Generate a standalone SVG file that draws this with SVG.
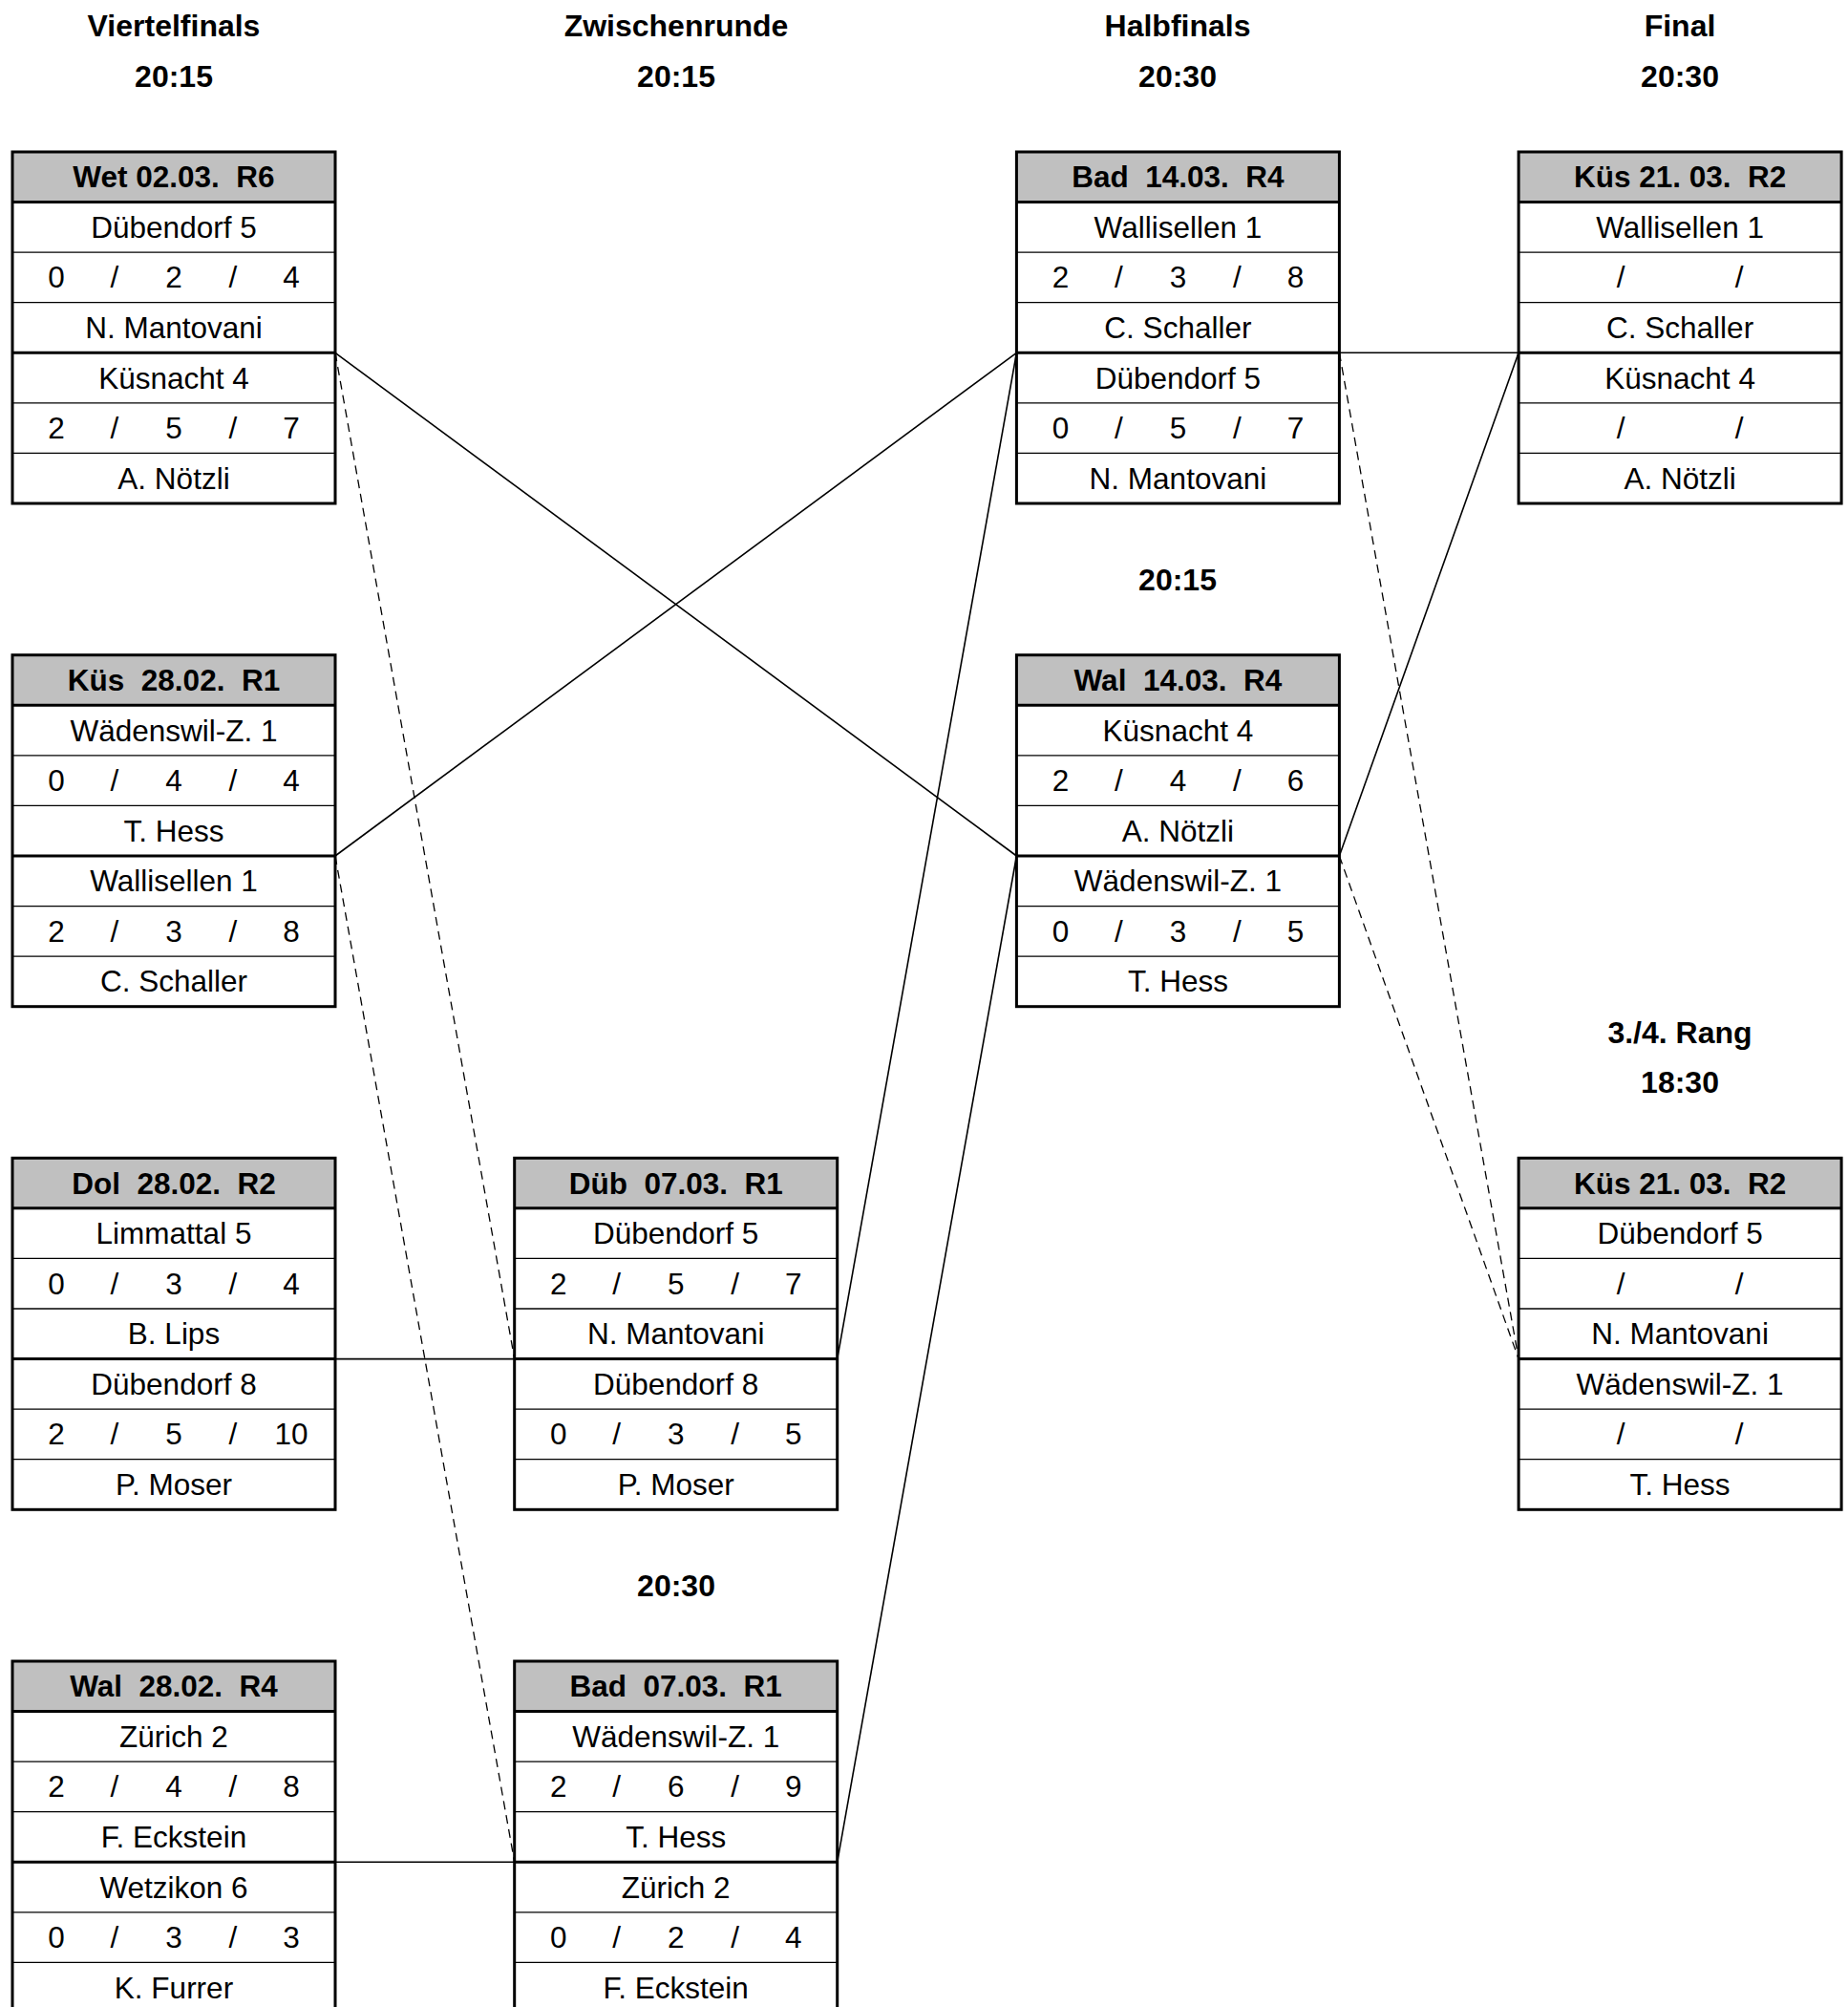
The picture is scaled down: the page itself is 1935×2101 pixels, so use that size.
<svg xmlns="http://www.w3.org/2000/svg" width="1935" height="2101" viewBox="0 0 1935 2101">
<style>
  .bg{fill:#ffffff}
  .hd{fill:#c0c0c0;stroke:none}
  .frame{fill:none;stroke:#000;stroke-width:3}
  .thin{stroke:#000;stroke-width:1.3}
  .thick{stroke:#000;stroke-width:3}
  .t{font-family:"Liberation Sans",Arial,sans-serif;font-size:31.5px;text-anchor:middle;fill:#000;white-space:pre}
  .b{font-weight:bold}
  .ttl{font-family:"Liberation Sans",Arial,sans-serif;font-size:32px;font-weight:bold;text-anchor:middle;fill:#000}
  .c{stroke:#000;stroke-width:1.6;fill:none}
  .d{stroke:#000;stroke-width:1.3;fill:none;stroke-dasharray:9 6}
</style>
<defs>
  <g id="box">
    <rect class="bg" x="0" y="0" width="338" height="368"/>
    <rect class="hd" x="0" y="0" width="338" height="52.57"/>
    <line class="thin" x1="0" y1="105.14" x2="338" y2="105.14"/>
    <line class="thin" x1="0" y1="157.71" x2="338" y2="157.71"/>
    <line class="thin" x1="0" y1="262.85" x2="338" y2="262.85"/>
    <line class="thin" x1="0" y1="315.42" x2="338" y2="315.42"/>
    <line class="thick" x1="0" y1="52.57" x2="338" y2="52.57"/>
    <line class="thick" x1="0" y1="210.28" x2="338" y2="210.28"/>
    <rect class="frame" x="0" y="0" width="338" height="368"/>
  </g>
</defs>
<rect x="0" y="0" width="1935" height="2101" fill="#fff"/>

<g id="titles">
  <text class="ttl" x="182" y="38">Viertelfinals</text>
  <text class="ttl" x="182" y="91">20:15</text>
  <text class="ttl" x="708" y="38">Zwischenrunde</text>
  <text class="ttl" x="708" y="91">20:15</text>
  <text class="ttl" x="1233" y="38">Halbfinals</text>
  <text class="ttl" x="1233" y="91">20:30</text>
  <text class="ttl" x="1759" y="38">Final</text>
  <text class="ttl" x="1759" y="91">20:30</text>
  <text class="ttl" x="1233" y="618">20:15</text>
  <text class="ttl" x="708" y="1671">20:30</text>
  <text class="ttl" x="1759" y="1092">3./4. Rang</text>
  <text class="ttl" x="1759" y="1144">18:30</text>
</g>

<g id="connectors">
  <line class="c" x1="351" y1="369.3" x2="1064.4" y2="896"/>
  <line class="c" x1="351" y1="896" x2="1064.4" y2="369.3"/>
  <line class="c" x1="351" y1="1422.6" x2="538.7" y2="1422.6"/>
  <line class="c" x1="351" y1="1949.3" x2="538.7" y2="1949.3"/>
  <line class="c" x1="876.7" y1="1422.6" x2="1064.4" y2="369.3"/>
  <line class="c" x1="876.7" y1="1949.3" x2="1064.4" y2="896"/>
  <line class="c" x1="1402.4" y1="369.3" x2="1590.1" y2="369.3"/>
  <line class="c" x1="1402.4" y1="896" x2="1590.1" y2="369.3"/>
  <line class="d" x1="351" y1="369.3" x2="538.7" y2="1422.6"/>
  <line class="d" x1="351" y1="896" x2="538.7" y2="1949.3"/>
  <line class="d" x1="1402.4" y1="369.3" x2="1590.1" y2="1422.6"/>
  <line class="d" x1="1402.4" y1="896" x2="1590.1" y2="1422.6"/>
</g>

<g id="qf1" transform="translate(13,159)">
  <use href="#box"/>
  <text class="t b" x="169" y="37.3">Wet 02.03.  R6</text>
  <text class="t" x="169" y="89.9">Dübendorf 5</text>
  <text class="t" y="142.4"><tspan x="46">0</tspan><tspan x="107">/</tspan><tspan x="169">2</tspan><tspan x="231">/</tspan><tspan x="292">4</tspan></text>
  <text class="t" x="169" y="195">N. Mantovani</text>
  <text class="t" x="169" y="247.6">Küsnacht 4</text>
  <text class="t" y="300.1"><tspan x="46">2</tspan><tspan x="107">/</tspan><tspan x="169">5</tspan><tspan x="231">/</tspan><tspan x="292">7</tspan></text>
  <text class="t" x="169" y="352.7">A. Nötzli</text>
</g>

<g id="qf2" transform="translate(13,685.7)">
  <use href="#box"/>
  <text class="t b" x="169" y="37.3">Küs  28.02.  R1</text>
  <text class="t" x="169" y="89.9">Wädenswil-Z. 1</text>
  <text class="t" y="142.4"><tspan x="46">0</tspan><tspan x="107">/</tspan><tspan x="169">4</tspan><tspan x="231">/</tspan><tspan x="292">4</tspan></text>
  <text class="t" x="169" y="195">T. Hess</text>
  <text class="t" x="169" y="247.6">Wallisellen 1</text>
  <text class="t" y="300.1"><tspan x="46">2</tspan><tspan x="107">/</tspan><tspan x="169">3</tspan><tspan x="231">/</tspan><tspan x="292">8</tspan></text>
  <text class="t" x="169" y="352.7">C. Schaller</text>
</g>

<g id="qf3" transform="translate(13,1212.3)">
  <use href="#box"/>
  <text class="t b" x="169" y="37.3">Dol  28.02.  R2</text>
  <text class="t" x="169" y="89.9">Limmattal 5</text>
  <text class="t" y="142.4"><tspan x="46">0</tspan><tspan x="107">/</tspan><tspan x="169">3</tspan><tspan x="231">/</tspan><tspan x="292">4</tspan></text>
  <text class="t" x="169" y="195">B. Lips</text>
  <text class="t" x="169" y="247.6">Dübendorf 8</text>
  <text class="t" y="300.1"><tspan x="46">2</tspan><tspan x="107">/</tspan><tspan x="169">5</tspan><tspan x="231">/</tspan><tspan x="292">10</tspan></text>
  <text class="t" x="169" y="352.7">P. Moser</text>
</g>

<g id="qf4" transform="translate(13,1739)">
  <use href="#box"/>
  <text class="t b" x="169" y="37.3">Wal  28.02.  R4</text>
  <text class="t" x="169" y="89.9">Zürich 2</text>
  <text class="t" y="142.4"><tspan x="46">2</tspan><tspan x="107">/</tspan><tspan x="169">4</tspan><tspan x="231">/</tspan><tspan x="292">8</tspan></text>
  <text class="t" x="169" y="195">F. Eckstein</text>
  <text class="t" x="169" y="247.6">Wetzikon 6</text>
  <text class="t" y="300.1"><tspan x="46">0</tspan><tspan x="107">/</tspan><tspan x="169">3</tspan><tspan x="231">/</tspan><tspan x="292">3</tspan></text>
  <text class="t" x="169" y="352.7">K. Furrer</text>
</g>

<g id="zr1" transform="translate(538.7,1212.3)">
  <use href="#box"/>
  <text class="t b" x="169" y="37.3">Düb  07.03.  R1</text>
  <text class="t" x="169" y="89.9">Dübendorf 5</text>
  <text class="t" y="142.4"><tspan x="46">2</tspan><tspan x="107">/</tspan><tspan x="169">5</tspan><tspan x="231">/</tspan><tspan x="292">7</tspan></text>
  <text class="t" x="169" y="195">N. Mantovani</text>
  <text class="t" x="169" y="247.6">Dübendorf 8</text>
  <text class="t" y="300.1"><tspan x="46">0</tspan><tspan x="107">/</tspan><tspan x="169">3</tspan><tspan x="231">/</tspan><tspan x="292">5</tspan></text>
  <text class="t" x="169" y="352.7">P. Moser</text>
</g>

<g id="zr2" transform="translate(538.7,1739)">
  <use href="#box"/>
  <text class="t b" x="169" y="37.3">Bad  07.03.  R1</text>
  <text class="t" x="169" y="89.9">Wädenswil-Z. 1</text>
  <text class="t" y="142.4"><tspan x="46">2</tspan><tspan x="107">/</tspan><tspan x="169">6</tspan><tspan x="231">/</tspan><tspan x="292">9</tspan></text>
  <text class="t" x="169" y="195">T. Hess</text>
  <text class="t" x="169" y="247.6">Zürich 2</text>
  <text class="t" y="300.1"><tspan x="46">0</tspan><tspan x="107">/</tspan><tspan x="169">2</tspan><tspan x="231">/</tspan><tspan x="292">4</tspan></text>
  <text class="t" x="169" y="352.7">F. Eckstein</text>
</g>

<g id="hf1" transform="translate(1064.4,159)">
  <use href="#box"/>
  <text class="t b" x="169" y="37.3">Bad  14.03.  R4</text>
  <text class="t" x="169" y="89.9">Wallisellen 1</text>
  <text class="t" y="142.4"><tspan x="46">2</tspan><tspan x="107">/</tspan><tspan x="169">3</tspan><tspan x="231">/</tspan><tspan x="292">8</tspan></text>
  <text class="t" x="169" y="195">C. Schaller</text>
  <text class="t" x="169" y="247.6">Dübendorf 5</text>
  <text class="t" y="300.1"><tspan x="46">0</tspan><tspan x="107">/</tspan><tspan x="169">5</tspan><tspan x="231">/</tspan><tspan x="292">7</tspan></text>
  <text class="t" x="169" y="352.7">N. Mantovani</text>
</g>

<g id="hf2" transform="translate(1064.4,685.7)">
  <use href="#box"/>
  <text class="t b" x="169" y="37.3">Wal  14.03.  R4</text>
  <text class="t" x="169" y="89.9">Küsnacht 4</text>
  <text class="t" y="142.4"><tspan x="46">2</tspan><tspan x="107">/</tspan><tspan x="169">4</tspan><tspan x="231">/</tspan><tspan x="292">6</tspan></text>
  <text class="t" x="169" y="195">A. Nötzli</text>
  <text class="t" x="169" y="247.6">Wädenswil-Z. 1</text>
  <text class="t" y="300.1"><tspan x="46">0</tspan><tspan x="107">/</tspan><tspan x="169">3</tspan><tspan x="231">/</tspan><tspan x="292">5</tspan></text>
  <text class="t" x="169" y="352.7">T. Hess</text>
</g>

<g id="final" transform="translate(1590.1,159)">
  <use href="#box"/>
  <text class="t b" x="169" y="37.3">Küs 21. 03.  R2</text>
  <text class="t" x="169" y="89.9">Wallisellen 1</text>
  <text class="t" y="142.4"><tspan x="107">/</tspan><tspan x="231">/</tspan></text>
  <text class="t" x="169" y="195">C. Schaller</text>
  <text class="t" x="169" y="247.6">Küsnacht 4</text>
  <text class="t" y="300.1"><tspan x="107">/</tspan><tspan x="231">/</tspan></text>
  <text class="t" x="169" y="352.7">A. Nötzli</text>
</g>

<g id="rang3" transform="translate(1590.1,1212.3)">
  <use href="#box"/>
  <text class="t b" x="169" y="37.3">Küs 21. 03.  R2</text>
  <text class="t" x="169" y="89.9">Dübendorf 5</text>
  <text class="t" y="142.4"><tspan x="107">/</tspan><tspan x="231">/</tspan></text>
  <text class="t" x="169" y="195">N. Mantovani</text>
  <text class="t" x="169" y="247.6">Wädenswil-Z. 1</text>
  <text class="t" y="300.1"><tspan x="107">/</tspan><tspan x="231">/</tspan></text>
  <text class="t" x="169" y="352.7">T. Hess</text>
</g>
</svg>
